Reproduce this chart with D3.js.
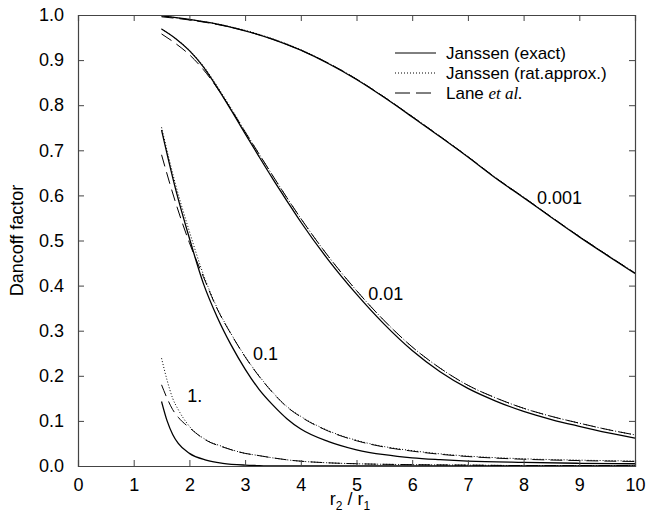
<!DOCTYPE html>
<html>
<head>
<meta charset="utf-8">
<script src="https://cdn.jsdelivr.net/npm/d3@7"></script>
<style>
  body { margin: 0; background: #fff; }
  text { font-family: "Liberation Sans", Arial, sans-serif; fill: #000; }
</style>
</head>
<body>
<svg id="chart"></svg>
<script>
// x values (r2/r1) for each curve
let x001 = [1.5, 2, 2.5, 3, 3.5, 4, 4.5, 5, 5.5, 6, 6.5, 7, 7.5, 8, 8.5, 9, 9.5, 10];
let x01 = [1.5, 1.75, 2, 2.25, 2.5, 2.75, 3, 3.25, 3.5, 3.75, 4, 4.5, 5, 5.5, 6, 6.5, 7, 7.5, 8, 8.5, 9, 9.5, 10];
let x1 = [1.5, 1.75, 2, 2.25, 2.5, 2.75, 3, 3.25, 3.5, 3.75, 4, 4.5, 5, 5.5, 6, 6.5, 7, 8, 9, 10];
let x10 = [1.5, 1.6, 1.7, 1.8, 2, 2.3, 2.6, 3, 3.2, 3.5, 3.8, 4.5, 5, 6, 7, 8, 10];

// Dancoff factor, optical thickness 0.001
let exact001 = [0.998, 0.990, 0.980, 0.965, 0.946, 0.922, 0.892, 0.857, 0.817, 0.774, 0.730, 0.685, 0.638, 0.595, 0.551, 0.508, 0.467, 0.427];
let rat001 = [0.998, 0.990, 0.980, 0.966, 0.947, 0.923, 0.893, 0.858, 0.818, 0.775, 0.731, 0.686, 0.639, 0.596, 0.552, 0.509, 0.468, 0.428];
let lane001 = [0.996, 0.989, 0.979, 0.965, 0.946, 0.922, 0.893, 0.858, 0.818, 0.775, 0.731, 0.686, 0.639, 0.596, 0.552, 0.509, 0.468, 0.428];

// optical thickness 0.01
let exact01 = [0.969, 0.948, 0.921, 0.885, 0.839, 0.789, 0.737, 0.686, 0.636, 0.588, 0.541, 0.456, 0.381, 0.314, 0.256, 0.209, 0.172, 0.144, 0.121, 0.103, 0.088, 0.074, 0.062];
let rat01 = [0.969, 0.948, 0.922, 0.887, 0.842, 0.793, 0.742, 0.692, 0.643, 0.595, 0.549, 0.464, 0.389, 0.322, 0.264, 0.217, 0.179, 0.151, 0.128, 0.110, 0.095, 0.081, 0.069];
let lane01 = [0.958, 0.937, 0.912, 0.879, 0.838, 0.791, 0.741, 0.692, 0.643, 0.595, 0.549, 0.464, 0.389, 0.322, 0.264, 0.217, 0.179, 0.151, 0.128, 0.110, 0.095, 0.081, 0.069];

// optical thickness 0.1
let exact1 = [0.745, 0.615, 0.505, 0.405, 0.330, 0.268, 0.215, 0.170, 0.135, 0.105, 0.082, 0.054, 0.036, 0.025, 0.018, 0.014, 0.011, 0.008, 0.006, 0.005];
let rat1 = [0.751, 0.625, 0.520, 0.425, 0.350, 0.293, 0.243, 0.200, 0.163, 0.132, 0.110, 0.078, 0.057, 0.043, 0.034, 0.027, 0.022, 0.016, 0.013, 0.011];
let lane1 = [0.690, 0.585, 0.495, 0.420, 0.348, 0.292, 0.242, 0.199, 0.162, 0.131, 0.109, 0.077, 0.056, 0.042, 0.033, 0.026, 0.021, 0.015, 0.012, 0.010];

// optical thickness 1.
let exact10 = [0.143, 0.100, 0.070, 0.050, 0.028, 0.013, 0.006, 0.002, 0.001, 0.000, 0.000, 0.000, 0.000, 0.000, 0.000, 0.000, 0.000];
let rat10 = [0.239, 0.190, 0.150, 0.125, 0.088, 0.058, 0.043, 0.028, 0.024, 0.018, 0.013, 0.007, 0.005, 0.003, 0.002, 0.001, 0.001];
let lane10 = [0.180, 0.150, 0.125, 0.108, 0.085, 0.057, 0.042, 0.028, 0.024, 0.018, 0.013, 0.007, 0.005, 0.003, 0.002, 0.001, 0.001];

let xTicks = [0, 1, 2, 3, 4, 5, 6, 7, 8, 9, 10];
let yTicks = [0, 0.1, 0.2, 0.3, 0.4, 0.5, 0.6, 0.7, 0.8, 0.9, 1.0];

let legendNames = ['Janssen (exact)', 'Janssen (rat.approx.)', 'Lane'];
let curveNames = ['0.001', '0.01', '0.1', '1.'];
// where each curve name sits, in data units
let curveLabelX = [8.24, 5.21, 3.14, 1.96];
let curveLabelY = [0.581, 0.368, 0.234, 0.142];

let width = 647, height = 525;
let svg = d3.select('#chart').attr('width', width).attr('height', height);

let x = d3.scaleLinear().domain([0, 10]).range([78, 635]);
let y = d3.scaleLinear().domain([0, 1]).range([466, 15]);

let styles = [
    { dash: null, w: 1.3 },
    { dash: '1,2', w: 1 },
    { dash: '12,6', w: 1 }
];

let curves = [
    [x001, [exact001, rat001, lane001]],
    [x01, [exact01, rat01, lane01]],
    [x1, [exact1, rat1, lane1]],
    [x10, [exact10, rat10, lane10]]
];

let line = d3.line()
    .x(d => x(d[0]))
    .y(d => y(d[1]))
    .curve(d3.curveMonotoneX);

curves.forEach(([xs, series]) => {
    series.forEach((ys, i) => {
        svg.append('path')
            .datum(xs.map((v, k) => [v, ys[k]]))
            .attr('d', line)
            .attr('fill', 'none')
            .attr('stroke', '#000')
            .attr('stroke-width', styles[i].w)
            .attr('stroke-dasharray', styles[i].dash);
    });
});

// axes, ticks inside on all four sides
let fmtY = d3.format('.1f');
svg.append('g').attr('transform', `translate(0,${y(0)})`)
    .call(d3.axisBottom(x).tickValues(xTicks).tickSize(-6).tickPadding(12).tickFormat(d3.format('d')));
svg.append('g').attr('transform', `translate(0,${y(1)})`)
    .call(d3.axisTop(x).tickValues(xTicks).tickSize(-6).tickFormat(''));
svg.append('g').attr('transform', `translate(${x(0)},0)`)
    .call(d3.axisLeft(y).tickValues(yTicks).tickSize(-6).tickPadding(14).tickFormat(fmtY));
svg.append('g').attr('transform', `translate(${x(10)},0)`)
    .call(d3.axisRight(y).tickValues(yTicks).tickSize(-6).tickFormat(''));

svg.selectAll('.domain').attr('stroke', '#444').attr('stroke-width', 1.2);
svg.selectAll('.tick line').attr('stroke', '#444');
svg.selectAll('.tick text')
    .style('font-size', '18px')
    .style('font-family', '"Liberation Sans", Arial, sans-serif');

// axis titles
svg.append('text')
    .attr('transform', `translate(23,${(y(0) + y(1)) / 2}) rotate(-90)`)
    .attr('text-anchor', 'middle')
    .style('font-size', '18px')
    .text('Dancoff factor');

let xt = svg.append('text')
    .attr('x', 350).attr('y', 505)
    .attr('text-anchor', 'middle')
    .style('font-size', '18px');
xt.append('tspan').text('r');
xt.append('tspan').attr('dy', 5).style('font-size', '12px').text('2');
xt.append('tspan').attr('dy', -5).text(' / r');
xt.append('tspan').attr('dy', 5).style('font-size', '12px').text('1');

// curve labels
curveNames.forEach((t, i) => {
    svg.append('text')
        .attr('x', x(curveLabelX[i]))
        .attr('y', y(curveLabelY[i]))
        .style('font-size', '18px')
        .text(t);
});

// legend
let legend = svg.append('g');
legendNames.forEach((name, i) => {
    let ly = 53 + i * 20;
    legend.append('line')
        .attr('x1', 395).attr('x2', 436)
        .attr('y1', ly).attr('y2', ly)
        .attr('stroke', '#000')
        .attr('stroke-width', 1)
        .attr('stroke-dasharray', i === 2 ? '15,6' : styles[i].dash);
    let t = legend.append('text')
        .attr('x', 446).attr('y', ly + 6)
        .style('font-size', '17px')
        .text(name);
    if (i === 2) {
        t.append('tspan').text(' ');
        t.append('tspan')
            .style('font-family', '"Liberation Serif", "Times New Roman", serif')
            .style('font-style', 'italic')
            .text('et al.');
    }
});
</script>
</body>
</html>
